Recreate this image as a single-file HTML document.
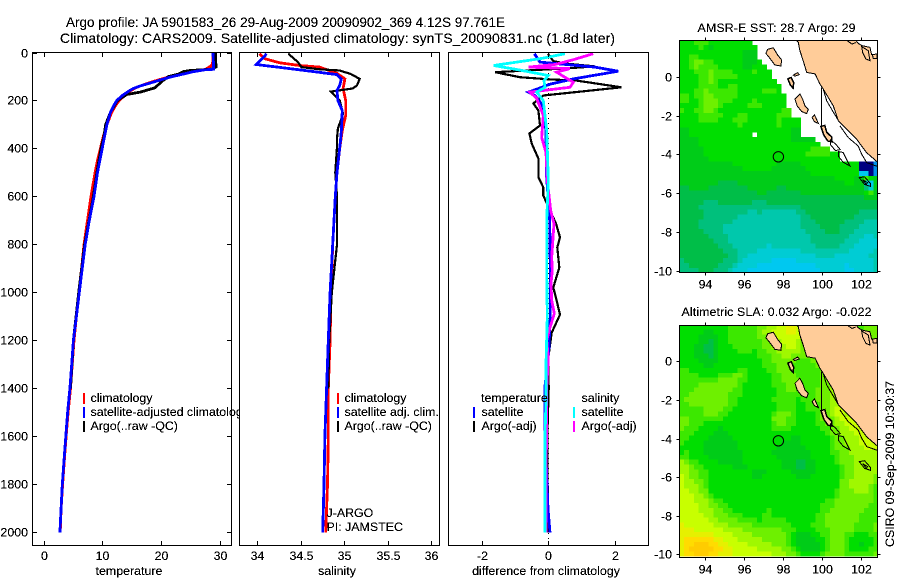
<!DOCTYPE html>
<html>
<head>
<meta charset="utf-8">
<title>Argo profile</title>
<style>
html,body{margin:0;padding:0;background:#fff;width:900px;height:580px;overflow:hidden}
svg{display:block}
text{font-family:"Liberation Sans",sans-serif;font-size:12.4px;fill:#000;filter:url(#aliased)}
.frame{fill:none;stroke:#000;stroke-width:1;shape-rendering:crispEdges}
.bg{fill:#fff;stroke:none}
.m{text-anchor:middle}
.series{fill:none;stroke-width:2.8;stroke-linejoin:miter;shape-rendering:crispEdges}
.thin{stroke-width:2.2}
</style>
</head>
<body>
<svg id="chart" xmlns="http://www.w3.org/2000/svg" width="900" height="580" viewBox="0 0 900 580">
  <defs>
    <filter id="aliased" x="-5%" y="-20%" width="110%" height="140%" color-interpolation-filters="sRGB">
      <feComponentTransfer><feFuncA type="discrete" tableValues="0 0 1 1 1 1"/></feComponentTransfer>
    </filter>
    <clipPath id="clip-sst"><rect x="679.5" y="40.5" width="198" height="232"/></clipPath>
    <clipPath id="clip-sla"><rect x="679.5" y="325.5" width="198" height="232"/></clipPath>
  </defs>
  <rect class="bg" x="0" y="0" width="900" height="580"/>
  <text x="66" y="27" style="font-size:13.5px" textLength="439">Argo profile: JA 5901583_26 29-Aug-2009 20090902_369 4.12S 97.761E</text>
  <text x="60" y="43" style="font-size:14px" textLength="555">Climatology: CARS2009. Satellite-adjusted climatology: synTS_20090831.nc (1.8d later)</text>

  <g id="panel-t">
    <rect class="bg" x="32.5" y="52.5" width="199" height="493"/>
    <g id="lines-t"></g>
    <g id="ticks-t"></g>
    <rect class="frame" x="32.5" y="52.5" width="199" height="493"/>
    <text class="m" x="129" y="575">temperature</text>
    <rect x="83" y="393" width="2" height="11" fill="#f00"/>
    <rect x="83" y="407" width="2" height="11" fill="#00f"/>
    <rect x="83" y="421" width="2" height="11" fill="#000"/>
    <text x="90.5" y="402">climatology</text>
    <text x="90.5" y="416">satellite-adjusted climatology</text>
    <text x="90.5" y="430">Argo(..raw -QC)</text>
  </g>

  <g id="panel-s">
    <rect class="bg" x="239.5" y="52.5" width="200" height="493"/>
    <g id="lines-s"></g>
    <g id="ticks-s"></g>
    <rect class="frame" x="239.5" y="52.5" width="200" height="493"/>
    <text class="m" x="337" y="575">salinity</text>
    <rect x="337" y="393" width="2" height="11" fill="#f00"/>
    <rect x="337" y="407" width="2" height="11" fill="#00f"/>
    <rect x="337" y="421" width="2" height="11" fill="#000"/>
    <text x="344.5" y="402">climatology</text>
    <text x="344.5" y="416">satellite adj. clim.</text>
    <text x="344.5" y="430">Argo(..raw -QC)</text>
    <text x="326.5" y="517">J-ARGO</text>
    <text x="326.5" y="531">PI: JAMSTEC</text>
  </g>

  <g id="panel-d">
    <rect class="bg" x="448.5" y="52.5" width="200" height="493"/>
    <line x1="548.5" y1="53" x2="548.5" y2="545" stroke="#000" stroke-width="1" stroke-dasharray="1 4" shape-rendering="crispEdges"/>
    <g id="lines-d"></g>
    <g id="ticks-d"></g>
    <rect class="frame" x="448.5" y="52.5" width="200" height="493"/>
    <text class="m" x="546" y="575">difference from climatology</text>
    <text x="481" y="402">temperature</text>
    <text x="581.5" y="402">salinity</text>
    <rect x="473" y="407" width="2" height="11" fill="#00f"/>
    <rect x="473" y="421" width="2" height="11" fill="#000"/>
    <rect x="573" y="407" width="2" height="11" fill="#0ff"/>
    <rect x="573" y="421" width="2" height="11" fill="#f0f"/>
    <text x="481.5" y="416">satellite</text>
    <text x="481.5" y="430">Argo(-adj)</text>
    <text x="581.5" y="416">satellite</text>
    <text x="581.5" y="430">Argo(-adj)</text>
  </g>

  <text x="697.5" y="32" textLength="158">AMSR-E SST: 28.7 Argo: 29</text>
  <g id="map-sst" clip-path="url(#clip-sst)"></g>
  <rect class="frame" x="679.5" y="40.5" width="198" height="232"/>
  <g id="ticks-sst"></g>

  <text x="681.5" y="316" textLength="190">Altimetric SLA: 0.032 Argo: -0.022</text>
  <g id="map-sla" clip-path="url(#clip-sla)"></g>
  <rect class="frame" x="679.5" y="325.5" width="198" height="232"/>
  <g id="ticks-sla"></g>

  <text class="m" transform="translate(894,464) rotate(-90)" x="0" y="0">CSIRO 09-Sep-2009 10:30:37</text>
</svg>

<script>
// ---- axis ticks ----
const depthTicks = [0,200,400,600,800,1000,1200,1400,1600,1800,2000];
const tempTicks = [0,10,20,30];
const salTicks = [34,34.5,35,35.5,36];
const diffTicks = [-2,0,2];
const lonTicks = [94,96,98,100,102];
const latTicks = [0,-2,-4,-6,-8,-10];

// ---- temperature profiles ----
const tempClimDepth = [0,20,50,60,70,80,90,100,110,120,130,140,150,160,170,180,200,220,250,300,350,400,450,500,600,700,800,900,1000,1100,1200,1300,1400,1500,1600,1700,1800,1900,2000];
const tempClim = [28.9,28.9,28.8,28.3,27.6,25.3,23.3,21.6,20.2,18.8,17.6,16.4,15.5,14.8,14.3,13.8,12.9,12.3,11.6,10.8,10.2,9.7,9.2,8.8,8.1,7.5,6.9,6.5,6.0,5.6,5.2,4.9,4.6,4.2,3.85,3.55,3.25,3.0,2.85];
const tempSatDepth = [0,60,70,72,80,90,100,110,120,130,140,150,160,170,180,200,220,250,300,350,400,450,500,600,700,800,900,1000,1100,1200,1300,1400,1500,1600,1700,1800,1900,2000];
const tempSat = [28.9,29,29,27.5,25.5,23.8,22,20.5,19.2,17.8,16.4,15.3,14.6,14,13.4,12.5,12,11.4,10.8,10.4,10,9.6,9.2,8.6,7.8,7.1,6.6,6.1,5.6,5.1,4.8,4.5,4.1,3.8,3.5,3.2,3,2.8];
const tempArgoDepth = [0,60,70,75,80,90,100,120,147,165,175,200,250,300,350,400,500,600,800,1000,1200,1400];
const tempArgo = [29.3,29.4,28.5,25,23.8,23,21.3,20.2,19,16.5,14.2,12.6,11.4,10.6,10.3,9.8,9.1,8.5,7,6,5.1,4.6];

// ---- salinity profiles ----
const salClimDepth = [5,26,43,54,61,87,110,150,200,262,325,400,500,600,800,1000,1200,1400,1600,1800,2000];
const salClim = [34.03,34.09,34.26,34.49,34.72,34.92,35.01,34.99,35.02,35.02,34.98,34.95,34.92,34.9,34.87,34.85,34.84,34.82,34.82,34.81,34.79];
const salArgoDepth = [5,40,61,70,75,90,110,137,150,163,175,200,255,317,358,394,500,600,800,1000,1200,1400];
const salArgo = [34.36,34.47,34.51,34.72,34.95,35.08,35.18,35.15,35.1,34.85,34.88,34.95,34.99,34.93,34.92,34.92,34.9,34.92,34.92,34.86,34.83,34.82];
const salSatDepth = [5,22,50,71,92,110,137,158,200,242,325,367,500,600,800,1000,1200,1400,1600,1800,2000];
const salSat = [34.11,34.07,33.99,34.46,34.92,34.97,34.95,34.92,34.93,34.98,34.97,34.96,34.92,34.9,34.87,34.84,34.82,34.8,34.78,34.77,34.755];

// ---- differences from climatology ----
const diffTempArgoDepth = [5,36,46,58,66,82,103,112,117,145,179,212,242,304,337,379,442,520,562,596,658,713,770,812,896,979,1033,1092,1167,1271,1400,1600,2000];
const diffTempArgo = [0,0.16,0.51,1.41,0.6,-1.59,-0.84,0.06,0.86,2.21,-0.14,-0.44,-0.29,-0.24,-0.56,-0.49,-0.29,-0.29,-0.14,-0.14,0.06,0.24,0.36,0.28,0.34,0.16,0.26,0.36,0.11,0.01,0.02,-0.02,0];
const diffTempSatDepth = [5,40,61,78,110,132,153,165,179,215,325,500,700,900,1100,1250,1400,1550,1800,1900,2000];
const diffTempSat = [-0.41,-0.24,1.41,2.11,0.76,0.06,-0.34,-0.59,-0.39,-0.19,-0.06,-0.05,0.05,0.07,0.07,0.02,-0.1,-0.1,-0.03,0,0.06];
const diffSalArgoDepth = [5,30,50,61,67,82,124,145,165,192,262,354,417,533,658,713,854,908,963,1033,1088,1146,1200,1271,1396,1700,2000];
const diffSalArgo = [1.36,0.76,0.21,-0.59,0.66,0.26,0.76,0.66,-0.54,-0.34,-0.14,-0.19,-0.06,-0.02,0.08,0.18,0.11,0.13,0.09,0.11,0.19,0.06,-0.04,0.01,-0.04,-0.05,-0.05];
const diffSalSatDepth = [5,25,54,71,96,117,145,165,200,325,533,700,900,1100,1300,1450,1600,1800,2000];
const diffSalSat = [0.51,-0.2,-1.64,-0.94,0.01,-0.12,-0.09,-0.34,-0.14,-0.04,0.01,-0.04,-0.04,-0.02,-0.06,-0.06,-0.09,-0.09,-0.09];

// ---- map values: colour-scale level per 0.25 degree cell, row by row from the north; short rows end at no-data ----
const sstRows = [
[8,8,8,9,9,9,8,8,8,8,8,8,8,8,8],
[8,8,8,8,9,8,7,8,8,8,8,8,8,8,8,8],
[8,8,8,8,8,8,8,8,8,8,8,8,8,7,7,7],
[8,8,9,9,8,8,8,8,8,8,8,8,8,7,7,7],
[8,8,9,10,10,9,9,8,8,8,8,8,8,7,7,7,8],
[8,8,9,10,9,9,9,9,8,8,8,8,8,7,7,8,8,8],
[8,8,8,9,9,9,10,9,9,9,9,8,8,8,8,9,8,8,8],
[8,8,8,8,9,9,10,9,9,9,9,9,8,8,8,8,8,8,8],
[8,8,8,8,9,9,10,9,8,8,8,8,8,8,8,8,8,8,8,8],
[8,8,8,8,9,9,9,9,8,8,9,9,8,8,8,8,8,8,8,8,8],
[8,8,8,9,9,10,9,9,9,9,9,9,8,8,8,8,8,9,9,9,8],
[9,9,8,9,9,10,10,9,9,9,9,9,8,8,8,8,8,8,8,8,8,8],
[9,9,8,8,9,10,10,10,9,9,9,8,8,8,8,9,8,8,8,8,8,8],
[8,8,8,8,9,10,10,10,9,8,8,8,8,8,9,9,9,8,8,8,8,8],
[9,8,8,9,9,10,10,9,8,8,8,8,8,8,8,8,8,8,8,8,8,9,9],
[8,8,8,8,9,9,9,9,9,8,8,8,9,9,8,8,8,8,8,8,9,9,9],
[8,8,8,8,9,9,9,9,8,8,8,9,9,9,8,8,8,8,8,8,9,8,8,8,8],
[8,8,8,8,8,8,8,8,8,8,8,8,9,8,8,8,8,8,8,8,9,8,8,8,8],
[7,7,8,8,8,8,8,8,8,8,8,8,8,8,8,8,8,8,8,8,8,8,8,7,7],
[7,7,8,8,8,8,8,8,8,8,8,8,8,8,8,null,8,8,8,8,8,8,8,7,7],
[7,7,7,7,8,8,8,8,8,8,8,8,8,8,8,8,8,8,8,8,8,8,8,7,7,7,7,7],
[7,7,7,7,8,8,8,8,8,8,8,8,8,8,8,8,8,8,8,8,8,8,8,8,8,8,8,8,8],
[7,7,7,7,7,8,8,8,8,8,8,8,8,8,8,8,8,8,8,8,8,8,8,8,8,8,8,9,9,9,9],
[7,7,7,7,7,8,8,8,8,8,8,8,8,8,8,8,8,8,8,8,8,8,8,8,8,8,9,9,9,9,9,8,8],
[7,7,7,7,7,7,8,8,8,8,8,8,8,8,8,8,8,8,8,8,8,8,8,8,8,8,8,8,8,8,8,8,8],
[7,7,7,7,7,7,7,7,7,7,7,8,8,8,8,8,8,8,8,8,7,7,7,7,7,8,8,8,8,8,8,8,8,8,8,8,8,0,0,0,1],
[7,7,7,7,7,7,7,7,7,7,7,7,7,8,8,8,8,8,8,7,7,7,7,7,7,7,8,8,8,8,8,8,8,8,8,8,8,0,0,0,1],
[7,7,7,7,7,7,7,7,7,7,7,7,7,7,7,7,7,7,7,7,7,7,7,7,7,7,7,8,8,8,8,8,8,8,8,8,8,2,2,0,1],
[7,7,7,7,7,7,7,7,7,7,7,7,7,7,7,7,7,7,7,7,7,7,7,7,7,7,7,7,7,7,7,7,8,8,8,8,7,7,9,8,7],
[7,7,7,7,7,7,7,7,6,6,6,6,7,7,7,7,7,7,7,7,7,7,7,7,7,7,7,7,7,7,7,7,7,7,8,8,7,7,3,2,7],
[6,6,7,7,7,7,6,6,6,6,6,6,6,6,7,7,7,7,7,7,6,6,7,7,7,7,7,7,7,7,7,7,7,7,7,7,7,7,5,3,7],
[6,6,6,6,6,6,6,6,6,6,6,6,6,6,6,6,7,7,6,6,6,6,6,6,6,7,7,7,7,7,7,7,7,7,7,7,7,7,8,9,7],
[6,6,6,6,6,6,6,6,6,6,6,6,6,6,6,6,6,6,6,6,6,6,6,6,6,6,6,6,6,6,6,6,6,6,6,6,6,6,7,7,7],
[6,6,6,6,6,5,5,5,6,6,6,6,6,6,6,5,5,5,6,6,6,6,6,6,6,6,6,6,6,6,6,6,6,6,6,6,6,6,6,6,6],
[6,6,6,6,5,5,5,5,5,5,5,5,5,5,5,5,5,5,5,5,5,5,5,5,5,6,6,6,6,6,6,6,6,6,6,6,6,6,6,6,6],
[6,6,6,6,6,5,5,5,5,5,5,5,5,5,4,4,5,4,4,4,4,4,4,4,5,5,6,6,6,6,6,6,6,6,6,6,6,5,5,5,5],
[6,6,6,6,6,5,5,5,5,5,5,5,4,4,4,4,4,4,4,4,4,4,4,4,4,5,5,6,6,6,6,6,6,6,6,6,5,5,5,5,5],
[6,6,6,6,5,5,5,5,5,5,5,4,4,4,4,4,4,4,4,4,4,4,4,4,4,5,5,5,6,6,6,6,6,6,5,5,5,5,4,4,4],
[6,6,6,6,5,5,5,5,5,4,4,4,4,4,4,4,4,4,4,4,4,4,4,4,4,5,5,5,5,6,6,6,6,5,5,5,5,4,4,4,4],
[6,6,6,6,6,5,5,5,5,4,4,4,4,4,4,4,4,4,4,4,4,4,4,4,4,4,5,5,5,5,6,6,6,5,5,5,4,4,4,4,4],
[6,6,6,6,6,6,5,5,5,5,4,4,4,4,4,4,4,4,4,4,4,4,4,4,4,4,4,5,5,5,5,5,5,5,5,4,4,4,3,3,4],
[6,6,6,6,6,6,6,5,5,5,4,4,4,4,4,4,4,4,4,4,4,4,4,4,4,4,4,5,5,5,5,5,5,5,4,4,4,3,3,3,3],
[6,6,6,6,6,6,6,6,5,5,5,4,4,4,4,4,4,4,3,4,4,4,4,4,4,4,4,4,5,5,5,5,5,4,4,4,3,3,3,3,3],
[6,6,6,6,6,6,6,6,6,5,5,5,4,4,4,4,3,3,3,3,3,3,3,3,3,4,4,4,4,4,4,4,4,4,4,3,3,3,3,3,4],
[6,6,6,6,6,6,6,6,6,6,5,5,4,4,3,3,3,3,3,3,3,3,3,3,3,3,3,3,4,4,4,4,3,3,3,3,3,3,3,4,4],
[5,6,6,6,6,6,6,6,6,5,5,5,4,3,3,3,3,3,3,2,2,2,2,2,3,3,3,3,3,3,3,3,3,3,3,3,3,3,3,3,4],
[5,5,6,6,6,6,6,6,5,5,5,4,3,3,3,3,2,2,2,2,2,2,2,2,2,2,2,2,3,3,3,3,3,3,2,3,3,3,3,3,4],
[5,5,5,5,6,6,6,5,5,5,4,3,3,3,2,2,2,2,2,2,2,2,2,2,2,2,2,2,2,3,3,3,3,3,2,2,3,3,3,3,4]
];
const slaRows = [
[8,8,8,8,8,8,8,8,8,8,9,9,9,9,9,9,10,10,11,11,12,12,13,13,12,10,10,10,10,10,10,10,10,10,10,10,9,9,10,10,10],
[8,8,8,8,8,7,7,8,8,8,9,9,9,9,9,9,10,11,11,12,12,12,13,13,12,10,10,10,10,10,10,10,10,10,10,10,9,9,10,10,10],
[8,8,8,8,7,7,7,7,8,8,9,9,9,9,9,9,10,10,11,11,12,12,12,12,12,10,10,10,10,10,10,10,10,10,10,10,9,9,10,10,10],
[8,8,8,8,7,7,6,7,8,8,9,9,9,9,9,9,9,10,10,11,11,12,12,12,11,10,10,10,10,10,10,10,10,10,10,10,10,10,10,10,10],
[8,8,8,7,7,6,6,7,8,8,8,9,9,9,9,9,9,10,10,11,11,11,12,12,11,10,10,10,10,10,10,10,10,10,10,10,10,10,10,10,10],
[8,8,8,7,7,6,6,7,8,8,8,8,9,9,9,8,9,9,10,10,11,11,11,11,11,10,10,10,10,10,10,10,10,10,10,10,10,10,10,10,10],
[8,8,8,7,7,7,6,7,8,8,8,8,8,8,8,8,9,9,9,10,10,11,11,10,10,10,10,10,10,10,10,10,10,10,10,10,10,10,10,10,10],
[8,8,8,8,7,7,7,7,8,8,8,8,8,8,8,8,8,9,9,10,10,10,10,10,9,9,9,10,10,10,10,10,10,10,10,10,10,10,10,10,10],
[8,8,8,8,8,7,7,8,8,8,8,8,8,8,8,8,8,9,9,9,10,10,10,9,9,9,9,9,10,10,10,10,10,10,10,10,10,10,10,10,10],
[9,9,8,8,8,8,8,8,8,8,8,8,9,9,8,8,8,8,9,9,10,10,10,9,9,9,9,9,9,10,10,10,10,10,10,10,10,10,10,10,10],
[9,9,9,9,8,8,8,8,9,9,9,10,10,9,8,8,8,8,8,9,9,10,10,10,9,9,9,9,9,10,10,10,10,10,10,10,10,10,10,10,10],
[9,9,9,9,9,9,9,9,10,10,10,10,9,9,8,8,8,8,8,9,9,10,10,10,10,9,9,9,9,10,10,10,10,10,10,10,10,10,10,10,10],
[9,9,9,9,10,10,10,10,10,10,10,10,9,8,8,8,8,8,8,9,9,9,10,10,10,9,9,9,9,10,10,10,10,10,10,10,10,10,10,10,10],
[9,9,9,10,10,10,10,10,10,10,10,9,9,8,8,8,8,8,8,8,9,9,10,10,9,9,9,9,10,10,10,11,11,10,10,10,10,10,10,10,10],
[9,9,10,10,10,10,10,10,10,10,9,9,9,8,8,8,8,8,8,8,9,9,9,9,9,9,9,9,10,10,10,11,11,11,10,10,10,10,10,10,10],
[9,10,10,10,10,10,10,10,10,10,9,9,8,8,8,8,8,8,8,9,9,9,9,9,8,9,9,9,10,10,10,11,11,11,10,10,10,10,10,10,10],
[9,9,10,10,10,10,10,10,10,10,9,9,8,8,8,8,8,8,8,8,9,9,9,9,8,8,9,9,9,10,10,11,11,11,11,10,10,10,10,10,10],
[9,9,9,9,9,10,10,10,10,9,9,8,8,8,8,8,8,8,8,8,9,9,9,9,8,8,9,9,9,10,10,11,12,12,11,11,10,10,10,10,10],
[9,9,9,9,9,10,10,10,9,9,8,8,8,8,8,8,8,8,8,9,10,10,10,9,8,8,8,8,9,10,10,11,12,12,11,11,11,10,10,10,10],
[10,10,9,9,9,9,9,9,9,8,8,8,8,8,8,8,8,8,8,10,10,10,9,9,8,8,8,8,9,10,10,10,11,12,12,12,11,11,10,10,10],
[10,10,9,9,9,8,8,8,8,8,8,8,8,8,8,8,8,8,8,9,10,10,9,9,8,8,8,8,9,9,10,10,11,11,12,12,12,11,11,10,10],
[10,9,9,9,8,8,8,8,7,8,8,8,8,8,8,8,8,8,8,9,9,9,9,8,8,8,8,8,8,9,9,10,10,11,11,12,12,12,11,11,10],
[9,9,9,8,8,8,8,7,7,7,8,8,8,8,8,8,8,8,8,8,8,8,8,8,8,8,8,8,8,8,9,10,10,11,11,11,12,12,12,11,11],
[9,9,8,8,8,8,7,7,7,7,7,8,8,8,8,8,8,8,8,8,8,8,8,7,7,8,8,8,8,8,8,9,10,10,11,11,11,12,12,12,12],
[9,8,8,8,8,7,7,7,7,7,7,7,8,8,8,8,8,8,8,8,8,7,7,7,7,8,8,8,8,8,8,9,10,10,11,11,11,12,12,12,12],
[8,8,8,8,8,7,7,7,7,7,7,7,8,8,8,8,8,8,8,8,7,7,7,7,7,7,8,8,8,8,8,9,10,10,10,11,11,11,12,12,12],
[8,9,8,8,8,7,7,7,7,7,7,7,7,8,8,8,8,8,8,7,7,7,7,7,7,7,7,8,8,8,8,9,9,10,10,11,11,11,11,11,11],
[9,9,8,8,8,8,7,7,7,7,7,7,7,8,8,8,8,8,8,8,7,7,7,7,7,7,7,8,8,8,8,8,9,10,10,10,11,11,11,11,11],
[11,10,9,9,8,8,8,8,7,7,7,7,7,8,8,8,8,8,8,8,8,7,7,7,6,6,7,7,8,8,8,8,9,10,10,10,11,11,11,11,11],
[11,11,10,9,9,8,8,8,8,8,8,7,7,7,8,8,8,8,8,8,8,7,7,7,6,6,7,7,8,8,8,8,8,9,10,10,11,11,11,11,11],
[11,11,10,10,9,9,8,8,8,8,8,8,8,8,8,7,7,7,8,8,8,8,8,7,7,7,7,7,8,8,8,8,8,9,10,10,11,11,11,11,11],
[12,11,10,10,9,9,8,8,8,8,8,8,8,8,8,7,7,8,8,8,8,8,8,8,7,7,7,8,8,8,8,8,8,9,10,10,11,11,11,11,10],
[12,11,11,10,10,9,8,8,8,8,8,8,8,8,8,8,8,8,8,8,8,8,8,8,8,8,8,8,8,8,8,8,8,10,10,11,11,11,11,11,10],
[12,11,11,11,10,9,8,8,8,8,8,8,8,8,8,8,8,8,8,8,8,8,8,8,8,8,8,8,8,8,8,8,8,10,10,11,11,11,11,10,9],
[12,12,11,11,10,10,8,8,8,8,8,8,8,8,8,8,8,8,8,8,8,8,8,8,8,8,8,8,8,8,8,8,9,10,10,10,11,11,11,10,9],
[12,12,12,11,11,10,9,8,8,8,8,8,8,8,8,8,8,8,8,8,8,8,8,8,8,8,8,8,8,8,8,8,9,10,10,10,10,10,10,10,9],
[12,12,12,11,11,11,10,9,9,8,8,8,8,8,8,8,8,8,8,8,8,8,8,8,8,8,8,8,8,8,9,9,10,10,10,10,10,10,10,10,9],
[12,12,12,12,11,11,10,10,9,9,8,8,8,8,8,8,8,8,8,8,8,8,8,8,8,8,8,8,8,9,9,9,10,10,10,10,10,10,10,9,9],
[12,12,12,12,11,11,11,10,10,9,9,8,8,8,8,8,8,8,9,8,8,8,8,8,8,8,8,8,8,9,9,10,10,10,10,10,10,10,9,9,9],
[12,12,12,12,12,11,11,10,10,10,9,9,9,8,8,8,8,9,9,8,8,8,8,8,8,8,8,8,9,9,10,10,10,10,10,10,10,9,9,9,9],
[12,12,12,12,12,12,11,11,10,10,10,10,9,9,9,9,8,9,9,9,9,9,8,8,8,8,8,8,9,9,10,10,10,10,10,10,10,9,9,9,9],
[13,12,12,12,12,12,12,11,11,11,10,10,10,10,10,9,9,9,9,9,9,9,9,8,8,8,8,9,9,9,10,10,10,10,10,10,9,9,9,9,10],
[13,13,13,12,12,12,12,12,12,11,11,11,11,10,10,10,10,10,10,10,10,9,9,9,8,8,8,8,9,9,9,10,10,10,10,10,9,9,9,9,10],
[13,13,13,13,13,13,13,12,12,12,12,11,11,11,11,10,10,10,10,10,10,10,9,8,7,7,7,8,8,9,9,10,10,10,9,9,8,8,8,9,9],
[13,14,14,14,14,14,14,13,13,12,12,12,11,11,11,11,11,10,10,10,10,10,9,8,7,7,7,7,8,8,9,10,10,10,9,8,8,8,8,8,9],
[13,14,14,15,15,15,14,14,13,13,12,12,12,12,11,11,11,11,11,10,10,10,9,8,7,7,7,7,7,8,9,10,10,10,9,8,8,7,8,8,9],
[13,14,15,15,15,15,15,14,14,13,13,12,12,12,12,12,11,11,11,11,11,10,10,9,8,7,7,7,7,8,9,10,10,10,9,8,8,8,8,9,9],
[13,14,14,15,15,15,14,14,13,13,13,12,12,12,12,12,12,12,12,11,11,11,10,10,9,8,8,8,8,9,10,10,10,10,9,9,9,9,9,9,10]
];

// ---- float position ----
const floatLon = 97.761;
const floatLat = -4.12;

// ---- coastline vertices [lon, lat] ----
const landCoast = [[98.6,1.95],[98.79,1.79],[98.87,1.36],[99.04,0.84],[99.22,0.24],[99.65,0.16],[99.9,-0.36],[100.07,-0.62],[100.33,-1.06],[100.59,-1.49],[100.85,-2.26],[101.36,-2.78],[101.79,-3.21],[102.31,-3.91],[102.95,-4.47],[102.95,1.19],[102.56,1.15],[102.48,1.53],[102.05,1.62],[101.87,1.74],[101.7,1.95]];
const islandSimeulue = [[97.21,1.43],[97.5,1.51],[97.72,1.14],[97.93,0.88],[97.89,0.57],[97.58,0.62],[97.33,0.96],[97.12,1.22]];
const islandNias = [[98.62,-1.14],[98.87,-0.88],[99.01,-1.14],[99.13,-1.49],[99.3,-1.66],[99.22,-1.89],[98.96,-1.78],[98.73,-1.49]];
const islandBatu = [[98.25,-0.1],[98.42,-0.02],[98.55,-0.3],[98.52,-0.58],[98.38,-0.42]];
const isletNorth = [[98.53,0.1],[98.75,0.22],[98.84,0.12],[98.6,0.04]];
const islandSiberut = [[99.5,-2.1],[99.62,-1.95],[99.82,-2.4],[99.62,-2.3]];
const islandPagai = [[99.95,-2.55],[100.15,-2.5],[100.25,-2.85],[100.5,-3.1],[100.5,-3.35],[100.3,-3.3],[100.1,-3.0]];
const lakeEast = [[102.05,1.57],[102.39,1.36],[102.48,0.84],[102.27,0.93],[102.1,1.27]];
const blobEast = [[102.6,1.15],[102.85,1.19],[102.85,0.95],[102.65,0.95]];
const shoreNorth = [[101.3,1.88],[101.55,1.7],[101.75,1.78]];
const shelfVertical = [[99.99,-0.54],[99.99,-2.52]];
const shelfStrip = [[100.07,-0.62],[100.25,-1.23],[100.5,-1.66],[100.76,-2.09],[100.85,-2.26]];
const shelfContour = [[100.93,-2.52],[101.36,-3.13],[101.87,-3.56],[102.05,-3.99],[102.31,-4.42],[102.95,-4.65]];
const lensA = [[100.45,-3.25],[100.7,-3.45],[100.95,-3.75],[100.7,-3.8],[100.45,-3.5]];
const lensB = [[100.85,-3.85],[101.1,-3.9],[101.25,-4.2],[101.45,-4.6],[101.1,-4.4],[100.85,-4.1]];
const enggano = [[101.93,-5.2],[102.2,-5.15],[102.5,-5.5],[102.5,-5.65],[102.2,-5.55]];
const engganoInner = [[102.1,-5.3],[102.35,-5.45],[102.3,-5.55]];

// ---- axis functions ----
const NS = 'http://www.w3.org/2000/svg';
function linear(d0, d1, r0, r1) {
  return function (v) { return r0 + (v - d0) * (r1 - r0) / (d1 - d0); };
}
const yDepth = linear(0, 2000, 52.5, 532.5);
const xTemp = linear(0, 30, 43.5, 219.5);
const xSal = linear(34, 36, 257, 431);
const xDiff = linear(-2, 2, 481.5, 614.5);
const xLon = linear(94, 102, 705.3, 860.7);
const ySst = linear(0, -10, 77, 270.7);
const ySla = linear(0, -10, 361.3, 554.3);

const levelColors = ['#000080','#0090e8','#00c8f0','#00ccd4','#00c8ac','#00c07c','#00be48','#00cc18','#00de00','#3ce800','#6ef000','#a0f800','#c8ff00','#e6f000','#ffdc00','#ffcc00'];
function levelColor(v) {
  return levelColors[Math.max(0, Math.min(levelColors.length - 1, Math.round(v)))];
}
function byId(id) { return document.getElementById(id); }
function svgEl(tag) { return document.createElementNS(NS, tag); }

function drawSeries(parent, name, depths, values, xFn, color, cls) {
  const line = svgEl('polyline');
  
  
  line.setAttribute('class', cls);
  line.setAttribute('stroke', color);
  const pts = [];
  for (let i = 0; i < values.length; i++) {
    pts.push(xFn(values[i]).toFixed(1) + ',' + yDepth(depths[i]).toFixed(1));
  }
  line.setAttribute('points', pts.join(' '));
  parent.appendChild(line);
}

function drawTick(parent, x1, y1, x2, y2) {
  const t = svgEl('line');
  
  
  t.setAttribute('x1', x1);
  t.setAttribute('y1', y1);
  t.setAttribute('x2', x2);
  t.setAttribute('y2', y2);
  t.setAttribute('stroke', '#000');
  t.setAttribute('stroke-width', '1');
  t.setAttribute('shape-rendering', 'crispEdges');
  parent.appendChild(t);
}

function drawLabel(parent, x, y, str, anchor) {
  const t = svgEl('text');
  
  
  t.setAttribute('x', x);
  t.setAttribute('y', y);
  t.setAttribute('text-anchor', anchor);
  t.textContent = str;
  parent.appendChild(t);
}

function panelXTicks(parent, ticks, xFn) {
  ticks.forEach(function (v) {
    const x = Math.round(xFn(v)) + 0.5;
    drawTick(parent, x, 53, x, 57);
    drawTick(parent, x, 541, x, 545);
    drawLabel(parent, x, 560, String(v), 'middle');
  });
}

// ---- profile panels ----
drawSeries(byId('lines-t'), 'temperature-climatology-line', tempClimDepth, tempClim, xTemp, '#f00', 'series');
drawSeries(byId('lines-t'), 'temperature-argo-line', tempArgoDepth, tempArgo, xTemp, '#000', 'series');
drawSeries(byId('lines-t'), 'temperature-satellite-line', tempSatDepth, tempSat, xTemp, '#00f', 'series');
drawSeries(byId('lines-s'), 'salinity-climatology-line', salClimDepth, salClim, xSal, '#f00', 'series');
drawSeries(byId('lines-s'), 'salinity-argo-line', salArgoDepth, salArgo, xSal, '#000', 'series thin');
drawSeries(byId('lines-s'), 'salinity-satellite-line', salSatDepth, salSat, xSal, '#00f', 'series');
drawSeries(byId('lines-d'), 'diff-temperature-argo-line', diffTempArgoDepth, diffTempArgo, xDiff, '#000', 'series thin');
drawSeries(byId('lines-d'), 'diff-temperature-satellite-line', diffTempSatDepth, diffTempSat, xDiff, '#00f', 'series');
drawSeries(byId('lines-d'), 'diff-salinity-argo-line', diffSalArgoDepth, diffSalArgo, xDiff, '#f0f', 'series');
drawSeries(byId('lines-d'), 'diff-salinity-satellite-line', diffSalSatDepth, diffSalSat, xDiff, '#0ff', 'series');

panelXTicks(byId('ticks-t'), tempTicks, xTemp);
panelXTicks(byId('ticks-s'), salTicks, xSal);
panelXTicks(byId('ticks-d'), diffTicks, xDiff);
depthTicks.forEach(function (d) {
  const y = Math.round(yDepth(d)) + (d === 0 ? 0.5 : -0.5);
  drawTick(byId('ticks-t'), 33, y, 37, y);
  drawTick(byId('ticks-t'), 227, y, 231, y);
  drawLabel(byId('ticks-t'), 28, y + 4, String(d), 'end');
});

// ---- maps ----
const gridLon0 = 92.66;
const gridLat0 = 1.9;
const gridStep = 0.25;

function drawGrid(parent, rows, yFn) {
  rows.forEach(function (row, r) {
    row.forEach(function (v, c) {
      if (v === null) return;
      const cell = svgEl('rect');
      
      
      const x0 = xLon(gridLon0 + c * gridStep);
      const x1 = xLon(gridLon0 + (c + 1) * gridStep);
      const y0 = yFn(gridLat0 - r * gridStep);
      const y1 = yFn(gridLat0 - (r + 1) * gridStep);
      cell.setAttribute('x', x0.toFixed(2));
      cell.setAttribute('y', y0.toFixed(2));
      cell.setAttribute('width', (x1 - x0 + 0.4).toFixed(2));
      cell.setAttribute('height', (y1 - y0 + 0.4).toFixed(2));
      cell.setAttribute('fill', levelColor(v));
      cell.setAttribute('shape-rendering', 'crispEdges');
      parent.appendChild(cell);
    });
  });
}

function toPoints(coords, yFn) {
  return coords.map(function (p) { return xLon(p[0]).toFixed(1) + ',' + yFn(p[1]).toFixed(1); }).join(' ');
}

function drawShape(parent, name, tag, coords, yFn, fill, width) {
  const s = svgEl(tag);
  
  
  s.setAttribute('points', toPoints(coords, yFn));
  s.setAttribute('fill', fill);
  s.setAttribute('stroke', '#000');
  s.setAttribute('stroke-width', width);
  s.setAttribute('shape-rendering', 'crispEdges');
  parent.appendChild(s);
}

function drawMap(groupId, tickId, rows, yFn, yTop, yBottom) {
  const g = byId(groupId);
  drawGrid(g, rows, yFn);
  const peach = '#ffcc99';
  drawShape(g, 'sumatra-land', 'polygon', landCoast, yFn, peach, 1);
  drawShape(g, 'simeulue-island', 'polygon', islandSimeulue, yFn, peach, 1);
  drawShape(g, 'nias-island', 'polygon', islandNias, yFn, peach, 1);
  drawShape(g, 'batu-islands', 'polygon', islandBatu, yFn, peach, 1.5);
  drawShape(g, 'north-islet', 'polygon', isletNorth, yFn, peach, 1);
  drawShape(g, 'siberut-island', 'polygon', islandSiberut, yFn, peach, 1);
  drawShape(g, 'pagai-islands', 'polygon', islandPagai, yFn, peach, 1.5);
  drawShape(g, 'east-lake', 'polygon', lakeEast, yFn, peach, 1);
  drawShape(g, 'east-blob', 'polygon', blobEast, yFn, peach, 1);
  drawShape(g, 'north-shore', 'polyline', shoreNorth, yFn, 'none', 1);
  drawShape(g, 'shelf-vertical-line', 'polyline', shelfVertical, yFn, 'none', 1);
  drawShape(g, 'shelf-strip', 'polyline', shelfStrip, yFn, 'none', 1);
  drawShape(g, 'shelf-contour', 'polyline', shelfContour, yFn, 'none', 1);
  drawShape(g, 'shelf-lens-a', 'polygon', lensA, yFn, 'none', 1);
  drawShape(g, 'shelf-lens-b', 'polygon', lensB, yFn, 'none', 1);
  drawShape(g, 'enggano-outline', 'polygon', enggano, yFn, 'none', 1);
  drawShape(g, 'enggano-inner', 'polygon', engganoInner, yFn, 'none', 1);

  const marker = svgEl('circle');
  
  
  marker.setAttribute('cx', xLon(floatLon).toFixed(1));
  marker.setAttribute('cy', yFn(floatLat).toFixed(1));
  marker.setAttribute('r', '5.2');
  marker.setAttribute('fill', 'none');
  marker.setAttribute('stroke', '#000');
  marker.setAttribute('stroke-width', '1');
  g.appendChild(marker);

  const t = byId(tickId);
  lonTicks.forEach(function (lon) {
    const x = Math.round(xLon(lon)) + 0.5;
    drawTick(t, x, yTop - 3, x, yTop);
    drawTick(t, x, yBottom, x, yBottom + 3);
    drawLabel(t, x, yBottom + 16, String(lon), 'middle');
  });
  latTicks.forEach(function (lat) {
    const y = Math.round(yFn(lat)) + 0.5;
    drawTick(t, 676.5, y, 679.5, y);
    drawTick(t, 877.5, y, 880.5, y);
    drawLabel(t, 672, y + 4, String(lat), 'end');
  });
}

drawMap('map-sst', 'ticks-sst', sstRows, ySst, 40.5, 272.5);
drawMap('map-sla', 'ticks-sla', slaRows, ySla, 325.5, 557.5);
</script>
</body>
</html>
